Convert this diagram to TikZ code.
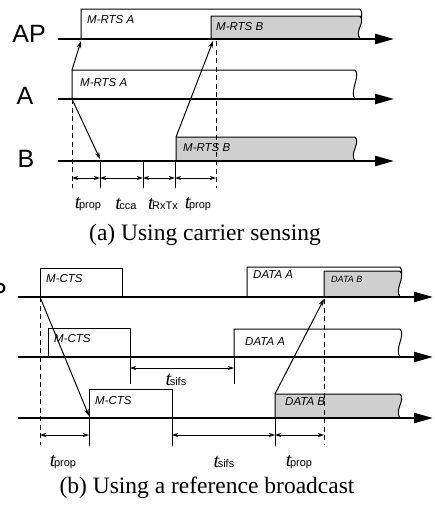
\documentclass[tikz,border=0pt]{standalone}
\usepackage{fontspec}
\setmainfont{Liberation Serif}
\setsansfont{Liberation Sans}
\usetikzlibrary{arrows.meta,calc}

% time label: big italic t with a sans subscript
\newcommand{\tsub}[1]{{\fontsize{20}{20}\selectfont\itshape t}\kern-1.5pt{\sffamily\fontsize{11}{11}\selectfont #1}}
% frame whose right end is cut off by a wave
\newcommand{\tailbox}[5][frame]{\draw[#1] (#2,#5) -- (#2,#3) -- (#4,#3) .. controls ($(#4,#3)+(6,6)$) and ($(#4,#5)+(-6,-8)$) .. (#4,#5) -- cycle;}

\begin{document}
\begin{tikzpicture}[x=1pt,y=-1pt,
    axis/.style={line width=2.2pt,-{Triangle[length=19pt,width=10pt]}},
    frame/.style={line width=1pt,fill=white},
    busy/.style={frame,fill=black!19},
    sig/.style={line width=1pt,-{Stealth[length=7pt,width=4.5pt]}},
    dim/.style={line width=1pt,{Stealth[length=6pt,width=4pt]}-{Stealth[length=6pt,width=4pt]}},
    guide/.style={line width=1pt,dash pattern=on 5pt off 3.5pt},
    lbl/.style={font=\sffamily\itshape\fontsize{11.5}{11.5}\selectfont,anchor=west,inner sep=0pt},
    station/.style={font=\sffamily\fontsize{25}{25}\selectfont,inner sep=0pt},
    caption/.style={font=\fontsize{23.5}{23.5}\selectfont}]
  \useasboundingbox (0,0) rectangle (434,506);

  % (a) carrier sensing
  \tailbox{81}{9}{360}{39}
  \tailbox[busy]{211}{16}{360}{39}
  \tailbox{72}{70}{355}{99}
  \tailbox[busy]{176}{137}{355}{161}
  \node[lbl] (rtsAap) at (87,20) {M-RTS A};
  \node[lbl] (rtsBap) at (216,27) {M-RTS B};
  \node[lbl] (rtsAa) at (80,83) {M-RTS A};
  \node[lbl] (rtsBb) at (183,148) {M-RTS B};
  \node[station] (apA) at (29,34) {AP};
  \node[station] (aA) at (25,96) {A};
  \node[station] (bA) at (26,159) {B};
  \foreach \y in {39,99,161} \draw[axis] (58,\y) -- (394,\y);
  \coordinate (sendA) at (72,70);
  \coordinate (hearA) at (81,41);
  \coordinate (startA) at (72,99);
  \coordinate (senseB) at (100,159);
  \coordinate (sendB) at (176,137);
  \coordinate (hearB) at (213,41);
  \draw[sig] (sendA) -- (hearA);
  \draw[sig] (startA) -- (senseB);
  \draw[sig] (sendB) -- (hearB);
  \draw[guide] (startA) -- (72,188);
  \draw[guide] (216,41) -- (216,188);
  \foreach \x in {100,143,175} \draw[line width=1pt] (\x,161) -- (\x,188);
  \foreach \a/\b in {72/100,100/143,143/175,175/216} \draw[dim] (\a,178) -- (\b,178);
  \node (tpropA) at (88,204) {\tsub{prop}};
  \node (tcca) at (126,204) {\tsub{cca}};
  \node (trxtx) at (163,204) {\tsub{RxTx}};
  \node (tpropB) at (198,204) {\tsub{prop}};
  \node[caption] (capA) at (205,235) {(a) Using carrier sensing};

  % (b) reference broadcast
  \draw[frame] (40,297) rectangle (122,268);
  \tailbox{247}{267}{400}{297}
  \tailbox[busy]{324}{271}{400}{297}
  \draw[frame] (48,357) rectangle (130,328);
  \tailbox{234}{329}{400}{357}
  \draw[frame] (89,418) rectangle (172,389);
  \tailbox[busy]{275}{394}{400}{418}
  \node[lbl] (ctsAP) at (46,279) {M-CTS};
  \node[lbl] (dataAap) at (253,275) {DATA A};
  \node[lbl,font=\sffamily\itshape\fontsize{9}{9}\selectfont] (dataBap) at (331,279) {DATA B};
  \node[lbl] (ctsA) at (54,339) {M-CTS};
  \node[lbl] (dataAa) at (245,342) {DATA A};
  \node[lbl] (ctsB) at (95,401) {M-CTS};
  \node[lbl] (dataBb) at (285,402) {DATA B};
  \node[station,anchor=east] (apB) at (7,292) {AP};
  \foreach \y in {297,357,418} \draw[axis] (18,\y) -- (433,\y);
  \coordinate (refAP) at (40,297);
  \coordinate (refB) at (89,416);
  \coordinate (dataB) at (275,394);
  \coordinate (dataAP) at (324,299);
  \draw[sig] (refAP) -- (refB);
  \draw[sig] (dataB) -- (dataAP);
  \draw[guide] (refAP) -- (40,445);
  \draw[guide] (dataAP) -- (324,445);
  \foreach \x in {130,234} \draw[line width=1pt] (\x,357) -- (\x,384);
  \draw[dim] (130,368) -- (234,368);
  \node (tsifsA) at (176,380) {\tsub{sifs}};
  \foreach \x in {89,172,275} \draw[line width=1pt] (\x,418) -- (\x,446);
  \foreach \a/\b in {40/89,172/275,275/324} \draw[dim] (\a,435) -- (\b,435);
  \node (tpropC) at (63,462) {\tsub{prop}};
  \node (tsifsB) at (224,462) {\tsub{sifs}};
  \node (tpropD) at (299,462) {\tsub{prop}};
  \node[caption] (capB) at (207,488) {(b) Using a reference broadcast};
\end{tikzpicture}
\end{document}
